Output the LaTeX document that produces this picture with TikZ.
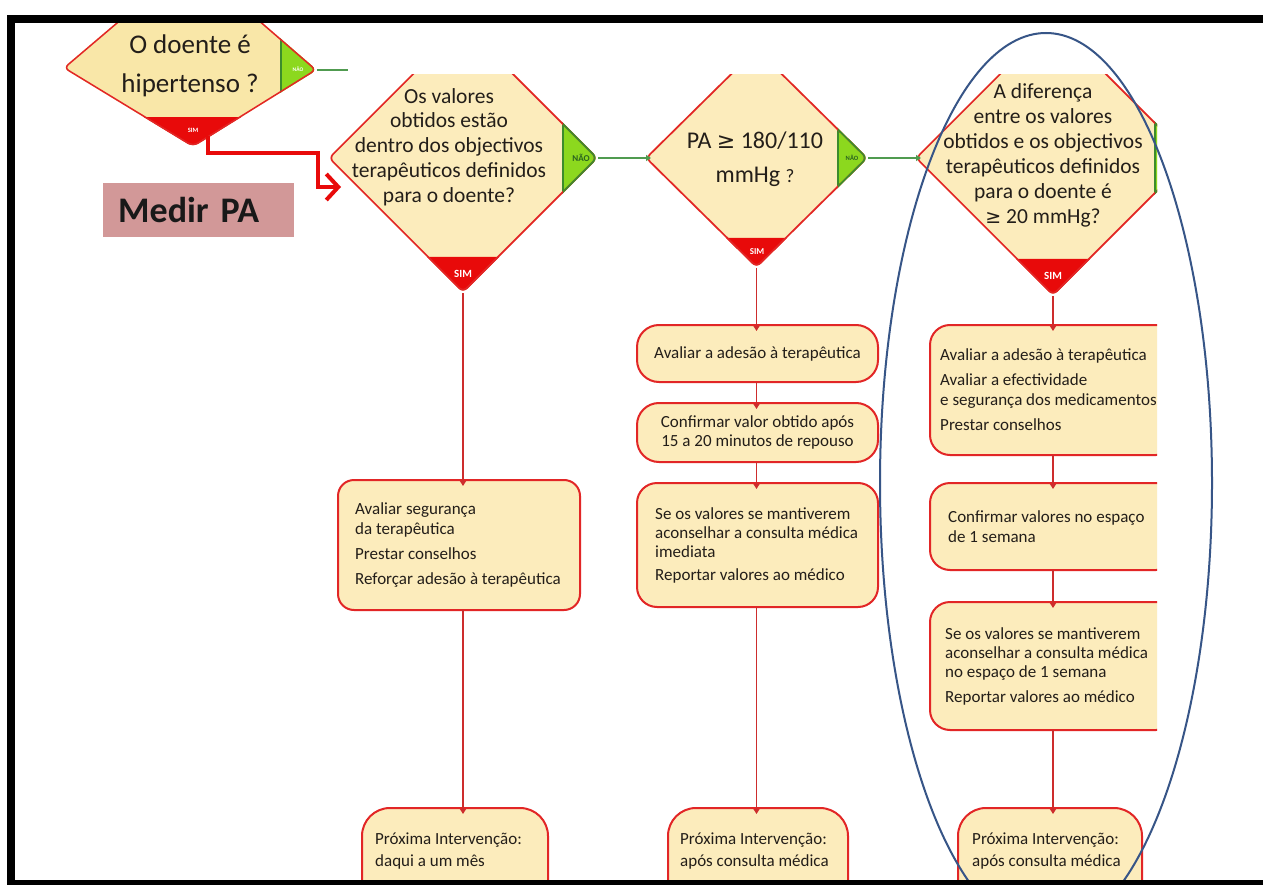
\documentclass[tikz,border=0pt]{standalone}
\usepackage{fontspec}
\setmainfont{Carlito}
\newfontfamily\symf{DejaVu Sans}
\usetikzlibrary{shapes.geometric,arrows.meta,calc}
\definecolor{cream}{RGB}{252,236,188}
\definecolor{creamA}{RGB}{249,231,168}
\definecolor{boxred}{RGB}{226,38,38}
\definecolor{simred}{RGB}{232,10,10}
\definecolor{naogreen}{RGB}{140,216,30}
\definecolor{naoedge}{RGB}{60,140,45}
\definecolor{connred}{RGB}{205,45,45}
\definecolor{conngreen}{RGB}{80,155,80}
\definecolor{ellblue}{RGB}{55,85,135}
\definecolor{medirc}{RGB}{210,152,152}
\definecolor{ink}{RGB}{35,30,25}
\begin{document}
\begin{tikzpicture}[x=1pt,y=-1pt,
  dia/.style n args={4}{diamond, inner sep=0pt, outer sep=0pt, minimum width=#1, minimum height=#2, fill=cream, rounded corners=6pt,
    path picture={
      \fill[simred] ([shift={(-300,-#3)}]path picture bounding box.south) rectangle ([shift={(300,10)}]path picture bounding box.south);
      \fill[naogreen] ([shift={(-#4,-300)}]path picture bounding box.east) rectangle ([shift={(10,300)}]path picture bounding box.east);
      \draw[naoedge, line width=1.4pt] ([shift={(-#4,-300)}]path picture bounding box.east) -- ([shift={(-#4,300)}]path picture bounding box.east);
      \draw[boxred, line width=3.4pt] (path picture bounding box.north) -- (path picture bounding box.east) -- (path picture bounding box.south) -- (path picture bounding box.west) -- cycle;
      \begin{scope}
        \clip ([shift={(-#4,-300)}]path picture bounding box.east) rectangle ([shift={(10,300)}]path picture bounding box.east);
        \draw[naoedge, line width=3.4pt] (path picture bounding box.north) -- (path picture bounding box.east) -- (path picture bounding box.south);
      \end{scope}
    }},
  dtext/.style={inner sep=0pt, align=center, text=ink},
  simlbl/.style={inner sep=0pt, text=white, font=\bfseries},
  naolbl/.style={inner sep=0pt, text=naoedge!70!black, font=\bfseries},
  box/.style={rectangle, rounded corners=16pt, draw=boxred, line width=2pt, fill=cream, inner sep=0pt, outer sep=0pt},
  btext/.style={inner sep=0pt, align=left, text=ink, font=\fontsize{17}{20}\selectfont},
  rconn/.style={draw=connred, line width=1.5pt, -{Triangle[length=5pt,width=6pt]}},
  gconn/.style={draw=conngreen, line width=1.5pt, -{Triangle[length=5pt,width=6pt]}},
  bigarrow/.style={draw=simred, line width=4pt, -{Straight Barb[length=12pt,width=26pt]}},
  medirbox/.style={rectangle, fill=medirc, inner xsep=15pt, inner ysep=0pt, minimum height=54pt, text width=161pt, align=left, font=\fontsize{36}{40}\selectfont\bfseries, text=black!90}
]
\useasboundingbox (0,0) rectangle (1263,885);
\fill[white] (0,0) rectangle (1263,885);

\begin{scope}
\clip (15,23) rectangle (1263,880);

% ---------- flowchart picture (clipped) ----------
\begin{scope}
\clip (15,75) rectangle (1157,880);

% diamonds
\node[dia={270pt}{270pt}{36}{35}] (d2) at (463,158) {};
\node[dia={223pt}{220pt}{30}{30}] (d3) at (756.5,158) {};
\node[dia={276pt}{276pt}{37}{36}] (d4) at (1053,158) {};

\node[dtext, font=\fontsize{21.5}{24.8}\selectfont] (d2t) at (449,147)
  {Os valores\\obtidos estão\\dentro dos objectivos\\terapêuticos definidos\\para o doente?};
\node[dtext, font=\fontsize{24}{34}\selectfont] (d3t) at (755,159)
  {PA {\symf\fontsize{22}{34}\selectfont ≥} 180/110\\mmHg {\fontsize{19}{30}\selectfont ?}};
\node[dtext, font=\fontsize{21.5}{25}\selectfont] (d4t) at (1043,155)
  {A diferença\\entre os valores\\obtidos e os objectivos\\terapêuticos definidos\\para o doente é\\{\symf\fontsize{19}{25}\selectfont ≥} 20 mmHg?};

\node[simlbl, font=\fontsize{11}{12}\selectfont\bfseries] (d2s) at (463,274) {SIM};
\node[simlbl, font=\fontsize{9}{10}\selectfont\bfseries] (d3s) at (757,252) {SIM};
\node[simlbl, font=\fontsize{11}{12}\selectfont\bfseries] (d4s) at (1053,276) {SIM};
\node[naolbl, font=\fontsize{9}{10}\selectfont\bfseries] (d2n) at (581,158) {NÃO};
\node[naolbl, font=\fontsize{6.5}{7}\selectfont\bfseries] (d3n) at (852,158) {NÃO};

% boxes column 1
\node[box, minimum width=242pt, minimum height=130pt] (b1) at (459,545) {};
\node[btext, anchor=west] (b1t) at ([xshift=17pt]b1.west)
  {Avaliar segurança\\da terapêutica\\[5pt]Prestar conselhos\\[5pt]Reforçar adesão à terapêutica};
\node[box, rounded corners=28pt, minimum width=186pt, minimum height=140pt, anchor=north] (bb1) at (455,808) {};
\node[btext, anchor=north west, font=\fontsize{17}{22}\selectfont] (bb1t) at ([shift={(13,25)}]bb1.north west)
  {Próxima Intervenção:\\daqui a um mês};

% boxes column 2
\node[box, rounded corners=22pt, minimum width=241pt, minimum height=57pt] (bA) at (757.5,353.5) {};
\node[btext, align=center] (bAt) at (bA.center) {Avaliar a adesão à terapêutica};
\node[box, rounded corners=22pt, minimum width=241pt, minimum height=59pt] (bB) at (757.5,432.5) {};
\node[btext, align=center, font=\fontsize{17}{19}\selectfont] (bBt) at (bB.center) {Confirmar valor obtido após\\15 a 20 minutos de repouso};
\node[box, rounded corners=20pt, minimum width=241pt, minimum height=124pt] (bC) at (757.5,545) {};
\node[btext, anchor=west, font=\fontsize{17}{19}\selectfont] (bCt) at ([xshift=18pt]bC.west)
  {Se os valores se mantiverem\\aconselhar a consulta médica\\imediata\\[4pt]Reportar valores ao médico};
\node[box, rounded corners=28pt, minimum width=180pt, minimum height=140pt, anchor=north] (bb2) at (758,808) {};
\node[btext, anchor=north west, font=\fontsize{17}{22}\selectfont] (bb2t) at ([shift={(12,25)}]bb2.north west)
  {Próxima Intervenção:\\após consulta médica};

% boxes column 3
\node[box, rounded corners=20pt, minimum width=246pt, minimum height=130pt] (bD) at (1053,390) {};
\node[btext, anchor=west] (bDt) at ([xshift=10pt]bD.west)
  {Avaliar a adesão à terapêutica\\[5pt]Avaliar a efectividade\\e segurança dos medicamentos\\[5pt]Prestar conselhos};
\node[box, rounded corners=20pt, minimum width=246pt, minimum height=87pt] (bE) at (1053,526.5) {};
\node[btext, anchor=west] (bEt) at ([xshift=18pt]bE.west)
  {Confirmar valores no espaço\\de 1 semana};
\node[box, rounded corners=20pt, minimum width=246pt, minimum height=128pt] (bF) at (1053,666) {};
\node[btext, anchor=west, font=\fontsize{17}{19}\selectfont] (bFt) at ([xshift=15pt]bF.west)
  {Se os valores se mantiverem\\aconselhar a consulta médica\\no espaço de 1 semana\\[6pt]Reportar valores ao médico};
\node[box, rounded corners=28pt, minimum width=184pt, minimum height=140pt, anchor=north] (bb3) at (1050,808) {};
\node[btext, anchor=north west, font=\fontsize{17}{22}\selectfont] (bb3t) at ([shift={(14,25)}]bb3.north west)
  {Próxima Intervenção:\\após consulta médica};

% connectors
\draw[gconn] (d2.east) -- ([xshift=6pt]d3.west);
\draw[gconn] (d3.east) -- ([xshift=6pt]d4.west);

\draw[rconn] (d2.south) -- ($(d2.south |- b1.north)+(0,6)$);
\draw[rconn] ($(d2.south |- b1.south)$) -- ($(d2.south |- bb1.north)+(0,6)$);

\draw[rconn] (d3.south) -- ($(d3.south |- bA.north)+(0,6)$);
\draw[rconn] ($(d3.south |- bA.south)$) -- ($(d3.south |- bB.north)+(0,6)$);
\draw[rconn] ($(d3.south |- bB.south)$) -- ($(d3.south |- bC.north)+(0,6)$);
\draw[rconn] ($(d3.south |- bC.south)$) -- ($(d3.south |- bb2.north)+(0,6)$);

\draw[rconn] (d4.south) -- ($(d4.south |- bD.north)+(0,6)$);
\draw[rconn] ($(d4.south |- bD.south)$) -- ($(d4.south |- bE.north)+(0,6)$);
\draw[rconn] ($(d4.south |- bE.south)$) -- ($(d4.south |- bF.north)+(0,6)$);
\draw[rconn] ($(d4.south |- bF.south)$) -- ($(d4.south |- bb3.north)+(0,6)$);
\end{scope}

% ---------- first question ----------
\begin{scope}
\path[clip, rounded corners=6pt] (63,68) -- (190,-40) -- (317,70) -- (193,147) -- cycle;
\fill[creamA] (40,-60) rectangle (340,160);
\fill[simred] (40,117) rectangle (340,160);
\fill[naogreen] (281,-60) rectangle (340,160);
\draw[naoedge, line width=1.2pt] (281,-60) -- (281,160);
\draw[boxred, line width=3pt, rounded corners=6pt] (63,68) -- (190,-40) -- (317,70) -- (193,147) -- cycle;
\end{scope}
\coordinate (d1E) at (317,70);
\coordinate (d1end) at (348,70);
\coordinate (d1sim) at (208,136);
\coordinate (d2in) at (341,187);
\node[dtext, font=\fontsize{27}{39}\selectfont] (d1) at (190,66) {O doente é\\hipertenso ?};
\node[simlbl, font=\fontsize{6.5}{7}\selectfont\bfseries] (d1s) at (193,130) {SIM};
\node[inner sep=0pt, text=white, font=\fontsize{5.5}{6}\selectfont\bfseries] (d1n) at (298,69) {NÃO};
\draw[draw=conngreen, line width=1.5pt] (d1E) -- (d1end);
\draw[bigarrow] (d1sim) -- ++(0,17) -| ++(110,34) -- (d2in);

\node[medirbox, anchor=west] (mpa) at (103,210) {Medir PA};

% highlight ellipse
\node[ellipse, draw=ellblue, line width=2pt, minimum width=332pt, minimum height=900pt, inner sep=0pt] (focus) at (1046,483) {};
\end{scope}

% frame
\fill[black] (7,15) rectangle (1263,23);
\fill[black] (7,15) rectangle (15,885);
\fill[black] (7,880) rectangle (1263,885);
\end{tikzpicture}
\end{document}
